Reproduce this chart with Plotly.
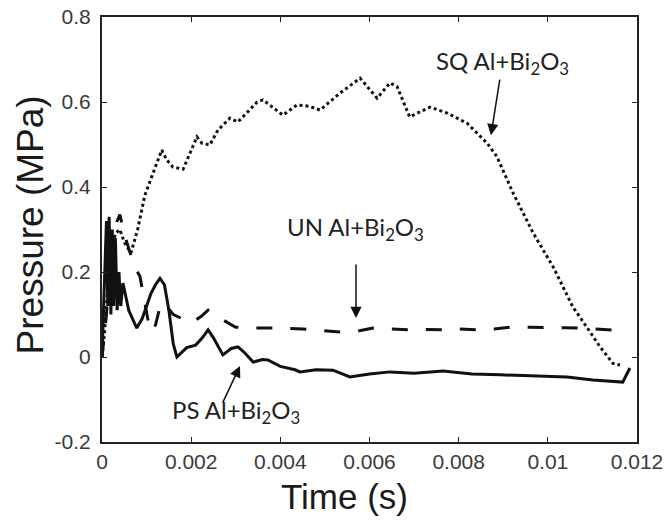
import plotly.graph_objects as go

# ---- data ----
t_sq = [0, 0.00005, 0.0001, 0.00015, 0.0002, 0.0003, 0.0004, 0.0005, 0.00065, 0.0008,
        0.00096, 0.0011, 0.00126, 0.00134, 0.00145, 0.00159, 0.00182, 0.00197, 0.00213,
        0.00224, 0.00242, 0.0026, 0.00287, 0.00305, 0.00325, 0.00348, 0.00361, 0.00384,
        0.00406, 0.00437, 0.00465, 0.00489, 0.00534, 0.00579, 0.00617, 0.00646, 0.00662,
        0.0069, 0.00736, 0.00774, 0.00819, 0.00864, 0.00886, 0.00922, 0.00967, 0.01012,
        0.01056, 0.01087, 0.01117, 0.01146, 0.01162]
p_sq = [0, 0.05, 0.12, 0.19, 0.25, 0.29, 0.3, 0.27, 0.245, 0.3,
        0.38, 0.42, 0.468, 0.487, 0.464, 0.447, 0.442, 0.48, 0.518,
        0.503, 0.499, 0.534, 0.562, 0.553, 0.576, 0.6, 0.605, 0.586,
        0.569, 0.593, 0.59, 0.581, 0.621, 0.656, 0.609, 0.645, 0.636,
        0.565, 0.588, 0.574, 0.55, 0.503, 0.471, 0.386, 0.292, 0.212,
        0.118, 0.071, 0.024, -0.015, -0.019]

t_un = [0, 0.0001, 0.0002, 0.0003, 0.0004, 0.0005, 0.0006, 0.00074, 0.00085, 0.00098,
        0.00108, 0.0012, 0.00132, 0.0014, 0.0016, 0.00186, 0.002, 0.00222, 0.00238, 0.0026,
        0.003, 0.0035, 0.004, 0.0045, 0.005, 0.00534, 0.0057, 0.00608, 0.0065, 0.0069,
        0.0073, 0.00765, 0.008, 0.0084, 0.0088, 0.00922, 0.0096, 0.00997, 0.0104, 0.01072,
        0.0111, 0.01162]
p_un = [0, 0.1, 0.24, 0.31, 0.335, 0.29, 0.255, 0.21, 0.19, 0.12,
        0.06, 0.075, 0.127, 0.125, 0.1, 0.087, 0.08, 0.095, 0.11, 0.094,
        0.07, 0.068, 0.068, 0.066, 0.062, 0.059, 0.06, 0.068, 0.066, 0.064,
        0.065, 0.064, 0.066, 0.064, 0.066, 0.071, 0.07, 0.07, 0.069, 0.068,
        0.066, 0.062]

t_ps = [0, 0.00004, 0.00008, 0.0001, 0.00013, 0.00016, 0.0002, 0.00023, 0.00026, 0.0003,
        0.00034, 0.00038, 0.00042, 0.00047, 0.0006, 0.00078, 0.0009, 0.001, 0.0011, 0.0012,
        0.0013, 0.0014, 0.0015, 0.0016, 0.00168, 0.0018, 0.0019, 0.0021, 0.00225, 0.00238,
        0.0025, 0.00271, 0.0029, 0.00305, 0.0032, 0.00339, 0.0036, 0.00372, 0.004, 0.00433,
        0.00444, 0.0048, 0.00518, 0.00556, 0.006, 0.00646, 0.007, 0.00765, 0.0083, 0.00893,
        0.0097, 0.01043, 0.01101, 0.0114, 0.01168, 0.01184]
p_ps = [0, 0.12, 0.25, 0.32, 0.12, 0.33, 0.1, 0.3, 0.12, 0.28,
        0.11, 0.2, 0.12, 0.174, 0.11, 0.068, 0.09, 0.12, 0.15, 0.17,
        0.185, 0.17, 0.11, 0.03, 0.0, 0.012, 0.022, 0.028, 0.045, 0.064,
        0.045, 0.005, 0.02, 0.024, 0.01, -0.012, -0.006, -0.007, -0.022, -0.03,
        -0.035, -0.03, -0.031, -0.047, -0.04, -0.035, -0.038, -0.033, -0.04, -0.042,
        -0.044, -0.047, -0.054, -0.056, -0.059, -0.026]

x_tickvals = [0, 0.002, 0.004, 0.006, 0.008, 0.01, 0.012]
x_ticktext = ["0", "0.002", "0.004", "0.006", "0.008", "0.01", "0.012"]
y_tickvals = [-0.2, 0, 0.2, 0.4, 0.6, 0.8]
y_ticktext = ["-0.2", "0", "0.2", "0.4", "0.6", "0.8"]

x_title = "Time (s)"
y_title = "Pressure (MPa)"
labels = ["SQ Al+Bi<sub>2</sub>O<sub>3</sub>",
          "UN Al+Bi<sub>2</sub>O<sub>3</sub>",
          "PS Al+Bi<sub>2</sub>O<sub>3</sub>"]

fig = go.Figure()
fig.add_trace(go.Scatter(x=t_sq, y=p_sq, mode="lines",
                         line=dict(color="#111", width=3, dash="3px,3px")))
fig.add_trace(go.Scatter(x=t_un, y=p_un, mode="lines",
                         line=dict(color="#111", width=3, dash="16px,18px")))
fig.add_trace(go.Scatter(x=t_ps, y=p_ps, mode="lines",
                         line=dict(color="#111", width=3)))

axis_common = dict(showgrid=False, zeroline=False, showline=True, linecolor="#222",
                   linewidth=2, mirror="ticks", ticks="inside", ticklen=5,
                   tickcolor="#222", tickwidth=1, automargin=False,
                   tickfont=dict(family="Liberation Sans, Arial", size=21, color="#3a3a3a"))

fig.update_layout(
    width=665, height=520,
    margin=dict(l=102, r=28, t=17, b=78),
    paper_bgcolor="white", plot_bgcolor="white",
    showlegend=False,
    xaxis=dict(range=[0, 0.012], tickvals=x_tickvals, ticktext=x_ticktext, **axis_common),
    yaxis=dict(range=[-0.2, 0.8], tickvals=y_tickvals, ticktext=y_ticktext,
               ticklabelstandoff=5, **axis_common),
)

title_font = dict(family="Liberation Sans, Arial", color="#1a1a1a")
fig.add_annotation(xref="paper", yref="paper", x=0.454, y=-0.129, text=x_title,
                   showarrow=False, xanchor="center", yanchor="middle",
                   font=dict(size=35, **title_font))
fig.add_annotation(xref="paper", yref="paper", x=-0.1346, y=0.512, text=y_title,
                   showarrow=False, xanchor="center", yanchor="middle", textangle=-90,
                   font=dict(size=37, **title_font))

ann_font = dict(family="Lato, Open Sans", size=24, color="#222")
# text labels
fig.add_annotation(x=0.008994, y=0.694, text=labels[0], showarrow=False, font=ann_font)
fig.add_annotation(x=0.005675, y=0.3035, text=labels[1], showarrow=False, font=ann_font)
fig.add_annotation(x=0.003006, y=-0.129, text=labels[2], showarrow=False, font=ann_font)
# arrows
arrows = [
    (0.008725, 0.522, 0.008927, 0.656),
    (0.005697, 0.092, 0.005697, 0.221),
    (0.003095, -0.021, 0.002692, -0.111),
]
for (x, y, ax, ay) in arrows:
    fig.add_annotation(x=x, y=y, ax=ax, ay=ay, axref="x", ayref="y", text="",
                       showarrow=True, arrowhead=2, arrowsize=1.5, arrowwidth=1.5,
                       arrowcolor="#111")

fig.write_html("out.html", config={"displayModeBar": False},
               post_script="document.body.style.margin='0';")
